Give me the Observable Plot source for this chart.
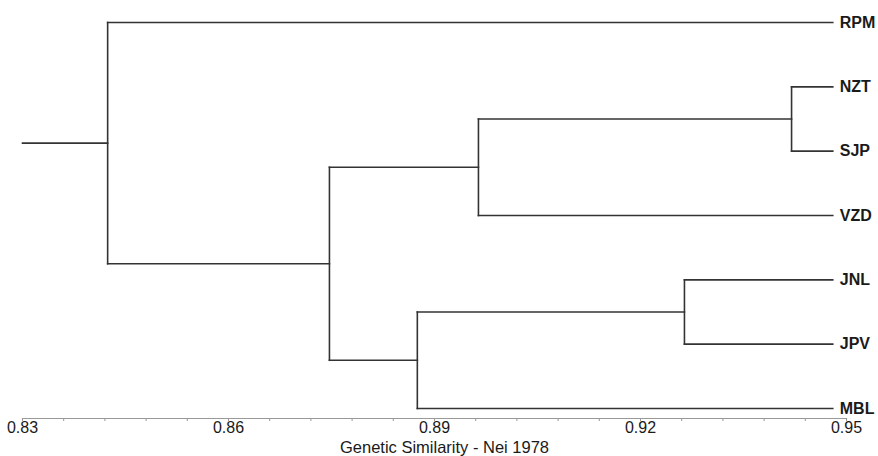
<!DOCTYPE html>
<html><head><meta charset="utf-8">
<script src="https://cdn.jsdelivr.net/npm/d3@7"></script>
<script src="https://cdn.jsdelivr.net/npm/@observablehq/plot@0.6"></script>
<style>body{margin:0;background:#fff}</style>
</head><body><div id="chart"></div>
<script>
// ---- data ----
const leaves = ["RPM", "NZT", "SJP", "VZD", "JNL", "JPV", "MBL"];
const leafSimilarity = 0.948;
const rootStart = 0.83;
const nodeNames = ["C1", "C2", "C3", "C4", "C5", "C6"];
const nodeChildren = [["NZT", "SJP"], ["JNL", "JPV"], ["C1", "VZD"], ["C2", "MBL"], ["C3", "C4"], ["RPM", "C5"]];
const nodeSimilarity = [0.942, 0.9264, 0.8964, 0.8875, 0.8747, 0.8424];
const majorTicks = [0.83, 0.86, 0.89, 0.92, 0.95];
const minorTicks = [0.83, 0.836, 0.842, 0.848, 0.854, 0.86, 0.866, 0.872, 0.878, 0.884, 0.89,
  0.896, 0.902, 0.908, 0.914, 0.92, 0.926, 0.932, 0.938, 0.944, 0.95];
const axisTitle = "Genetic Similarity - Nei 1978";

// ---- build tree geometry in data units ----
const pos = new Map();
leaves.forEach((name, i) => pos.set(name, {x: leafSimilarity, y: i}));
nodeNames.forEach((name, i) => {
  const [a, b] = nodeChildren[i];
  pos.set(name, {x: nodeSimilarity[i], y: (pos.get(a).y + pos.get(b).y) / 2});
});
const segments = [];
nodeNames.forEach((name, i) => {
  const p = pos.get(name);
  const [a, b] = nodeChildren[i].map(c => pos.get(c));
  segments.push({x1: p.x, y1: a.y, x2: p.x, y2: b.y});
  segments.push({x1: p.x, y1: a.y, x2: a.x, y2: a.y});
  segments.push({x1: p.x, y1: b.y, x2: b.x, y2: b.y});
});
const root = pos.get(nodeNames[nodeNames.length - 1]);
segments.push({x1: rootStart, y1: root.y, x2: root.x, y2: root.y});
const leafRows = leaves.map(name => ({name, ...pos.get(name)}));

const font = "'Liberation Sans', Arial, sans-serif";
const chart = Plot.plot({
  width: 878,
  height: 456,
  marginLeft: 22,
  marginRight: 32,
  marginTop: 22,
  marginBottom: 38,
  style: {fontFamily: font, background: "#fff"},
  x: {domain: [0.83, 0.95]},
  y: {domain: [0, leaves.length - 1], range: [22, 408], axis: null},
  marks: [
    Plot.frame({anchor: "bottom", stroke: "#999", strokeWidth: 1.2}),
    Plot.axisX({ticks: minorTicks, tickSize: 3, stroke: "#999", tickFormat: () => "", label: null}),
    Plot.axisX({ticks: majorTicks, tickSize: 3, stroke: "#999", tickPadding: 0, fontSize: 16, fill: "#1a1a1a",
      tickFormat: d3.format(".2f"), label: axisTitle, labelAnchor: "center", labelArrow: "none", labelOffset: 34}),
    Plot.link(segments, {x1: "x1", y1: "y1", x2: "x2", y2: "y2", stroke: "#333", strokeWidth: 1.6, strokeLinecap: "square"}),
    Plot.text(leafRows, {x: "x", y: "y", text: "name", dx: 7, textAnchor: "start", fontSize: 16, fontWeight: "bold", fill: "#1a1a1a"})
  ]
});
chart.querySelectorAll("g[aria-label='x-axis label'] text").forEach(t => {
  t.style.fontSize = "16.5px"; t.setAttribute("fill", "#1a1a1a"); t.setAttribute("dx", "10");
});
document.getElementById("chart").appendChild(chart);
</script>
</body></html>
